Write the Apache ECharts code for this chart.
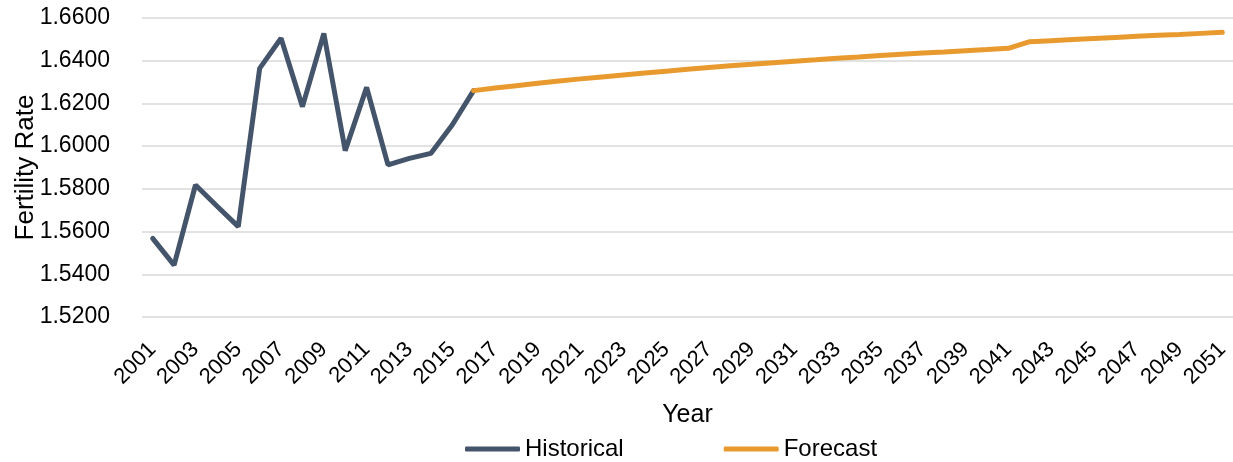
<!DOCTYPE html>
<html>
<head>
<meta charset="utf-8">
<title>Fertility Rate</title>
<script src="https://cdn.jsdelivr.net/npm/echarts@6/dist/echarts.min.js"></script>
<style>
  html, body { margin: 0; padding: 0; background: #ffffff; }
  #chart { width: 1233px; height: 462px; }
</style>
</head>
<body>
<div id="chart"></div>
<script>
// Years on the category axis
const years = [
  '2001','2002','2003','2004','2005','2006','2007','2008','2009','2010',
  '2011','2012','2013','2014','2015','2016','2017','2018','2019','2020',
  '2021','2022','2023','2024','2025','2026','2027','2028','2029','2030',
  '2031','2032','2033','2034','2035','2036','2037','2038','2039','2040',
  '2041','2042','2043','2044','2045','2046','2047','2048','2049','2050',
  '2051'
];

// Observed fertility rate, 2001–2016
const historical = [
  1.5568, 1.5443, 1.5818, 1.5720, 1.5623, 1.6364, 1.6505, 1.6185, 1.6528, 1.5979,
  1.6275, 1.5912, 1.5943, 1.5966, 1.6099, 1.6260
];

// Projected fertility rate, 2016–2051
const forecast = [
  1.6260, 1.6272, 1.6283, 1.6294, 1.6305, 1.6315, 1.6324, 1.6333, 1.6342, 1.6351,
  1.6360, 1.6368, 1.6376, 1.6383, 1.6391, 1.6398, 1.6404, 1.6411, 1.6417, 1.6424,
  1.6430, 1.6436, 1.6441, 1.6447, 1.6452, 1.6458, 1.6489, 1.6494, 1.6499, 1.6504,
  1.6509, 1.6514, 1.6519, 1.6523, 1.6528, 1.6533
];

// Value axis range
const yMin = 1.52;
const yMax = 1.66;
const yStep = 0.02;

// Align each series onto the full year axis
const forecastStart = years.indexOf('2016');
const historicalSeries = years.map((_, i) => (i < historical.length ? historical[i] : null));
const forecastSeries = years.map((_, i) => (i >= forecastStart ? forecast[i - forecastStart] : null));

const FONT = '"Liberation Sans", Arial, sans-serif';
const chart = echarts.init(document.getElementById('chart'), null, { renderer: 'canvas' });

chart.setOption({
  animation: false,
  backgroundColor: '#ffffff',
  textStyle: { fontFamily: FONT },
  grid: { left: 142, right: 0, top: 18, bottom: 145, containLabel: false, outerBoundsMode: 'none' },
  legend: {
    top: 432,
    left: 460,
    itemGap: 100,
    itemWidth: 55,
    itemHeight: 5,
    icon: 'roundRect',
    textStyle: { fontFamily: FONT, fontSize: 24, color: '#000000' },
    data: ['Historical', 'Forecast']
  },
  xAxis: {
    type: 'category',
    data: years,
    boundaryGap: true,
    name: 'Year',
    nameLocation: 'middle',
    nameGap: 86,
    nameMoveOverlap: false,
    nameTextStyle: { fontFamily: FONT, fontSize: 25, color: '#000000' },
    axisLine: { show: false },
    axisTick: { show: false },
    axisLabel: {
      interval: 1,
      rotate: 45,
      margin: 29,
      fontFamily: FONT,
      fontSize: 22,
      color: '#000000'
    }
  },
  yAxis: {
    type: 'value',
    min: yMin,
    max: yMax,
    interval: yStep,
    name: 'Fertility Rate',
    nameLocation: 'middle',
    nameGap: 103,
    nameMoveOverlap: false,
    nameTextStyle: { fontFamily: FONT, fontSize: 26, color: '#000000' },
    axisLine: { show: false },
    axisTick: { show: false },
    axisLabel: {
      margin: 32,
      fontFamily: FONT,
      fontSize: 23,
      color: '#000000',
      formatter: v => v.toFixed(4)
    },
    splitLine: { lineStyle: { color: '#d9d9d9', width: 1.5 } }
  },
  series: [
    {
      name: 'Historical',
      type: 'line',
      data: historicalSeries,
      symbol: 'none',
      color: '#44546a',
      lineStyle: { width: 5, color: '#44546a', cap: 'round' },
      z: 2
    },
    {
      name: 'Forecast',
      type: 'line',
      data: forecastSeries,
      symbol: 'none',
      color: '#e89a2f',
      lineStyle: { width: 5, color: '#e89a2f', cap: 'round' },
      z: 3
    }
  ]
});
</script>
</body>
</html>
